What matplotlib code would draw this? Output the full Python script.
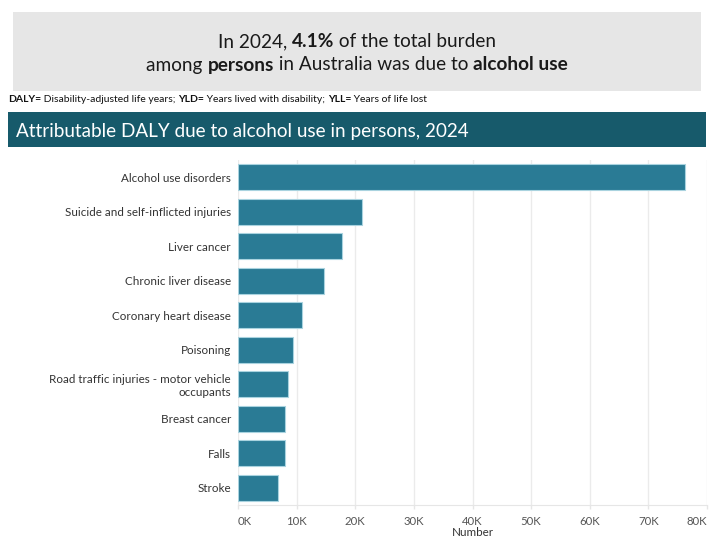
import matplotlib
matplotlib.use("Agg")
import matplotlib.pyplot as plt
from matplotlib.patches import Rectangle

# Attributable DALY (number) due to alcohol use, persons, 2024
causes = [
    "Alcohol use disorders",
    "Suicide and self-inflicted injuries",
    "Liver cancer",
    "Chronic liver disease",
    "Coronary heart disease",
    "Poisoning",
    "Road traffic injuries - motor vehicle\noccupants",
    "Breast cancer",
    "Falls",
    "Stroke",
]
daly = [76200, 21200, 17800, 14600, 10900, 9300, 8500, 8000, 8000, 6900]
x_ticks = [0, 10000, 20000, 30000, 40000, 50000, 60000, 70000, 80000]
x_tick_labels = ["0K", "10K", "20K", "30K", "40K", "50K", "60K", "70K", "80K"]

headline_line1 = [("In 2024, ", "normal"), ("4.1%", "bold"), (" of the total burden", "normal")]
headline_line2 = [("among ", "normal"), ("persons", "bold"), (" in Australia was due to ", "normal"),
                  ("alcohol use", "bold")]
abbrev_line = [("DALY=", "bold"), (" Disability-adjusted life years; ", "normal"),
               ("YLD=", "bold"), (" Years lived with disability; ", "normal"),
               ("YLL=", "bold"), (" Years of life lost", "normal")]
banner_title = "Attributable DALY due to alcohol use in persons, 2024"

FONT = "Lato"
W, H = 721, 540
fig = plt.figure(figsize=(W / 100, H / 100), dpi=100)
fig.patch.set_facecolor("white")


def px_rect(x0, y0, x1, y1, color):
    fig.patches.append(Rectangle((x0 / W, 1 - y1 / H), (x1 - x0) / W, (y1 - y0) / H,
                                 transform=fig.transFigure, facecolor=color,
                                 edgecolor="none", zorder=0))


def runs_text(runs, x, y, size, color, align="center"):
    renderer = fig.canvas.get_renderer()
    items = []
    for s, w in runs:
        t = fig.text(0, 0, s, fontsize=size, fontweight=w, family=FONT, color=color,
                     va="center", ha="left")
        items.append(t)
    widths = [t.get_window_extent(renderer).width for t in items]
    total = sum(widths)
    start = x - total / 2 if align == "center" else x
    cur = start
    for t, wd in zip(items, widths):
        t.set_position((cur / W, 1 - y / H))
        cur += wd


# Headline box
px_rect(13, 12, 701, 91, "#e6e6e6")
runs_text(headline_line1, 357, 42, 13.7, "#1a1a1a")
runs_text(headline_line2, 357, 65, 13.7, "#1a1a1a")

# Abbreviation note
runs_text(abbrev_line, 8, 99, 7.5, "#111111", align="left")

# Banner
px_rect(8, 112, 706, 147, "#175a6b")
fig.text(16 / W, 1 - 131 / H, banner_title, fontsize=13.6, family=FONT, color="white",
         va="center", ha="left")

# Bar chart
ax = fig.add_axes([238 / W, 1 - 505 / H, (707 - 238) / W, (505 - 160) / H])
ypos = list(range(len(causes)))
ax.barh(ypos, daly, height=0.74, color="#2a7b95", edgecolor="#a9d3df", linewidth=0.8,
        zorder=3)
ax.set_ylim(len(causes) - 0.5, -0.5)
ax.set_xlim(x_ticks[0], x_ticks[-1])
ax.set_yticks(ypos)
ax.set_yticklabels(causes, fontsize=8.4, family=FONT, color="#333333", ha="right",
                   multialignment="right")
ax.set_xticks(x_ticks)
ax.set_xticklabels(x_tick_labels, family=FONT)
ax.tick_params(axis="x", labelsize=8.2, labelcolor="#555555", color="#e6e6e6", length=3,
               width=1, pad=5)
ax.tick_params(axis="y", length=0, pad=5)
xt = ax.get_xticklabels()
xt[0].set_horizontalalignment("left")
xt[-1].set_horizontalalignment("right")
ax.grid(axis="x", color="#ebebeb", linewidth=1, zorder=0)
for side in ["top", "right", "left"]:
    ax.spines[side].set_visible(False)
ax.spines["bottom"].set_color("#e6e6e6")
ax.set_xlabel("Number", fontsize=8.4, family=FONT, color="#333333")
ax.xaxis.set_label_coords(0.5, -(533 - 505) / (505 - 160), transform=ax.transAxes)
ax.xaxis.label.set_va("center")

fig.savefig("out.png", dpi=100)
